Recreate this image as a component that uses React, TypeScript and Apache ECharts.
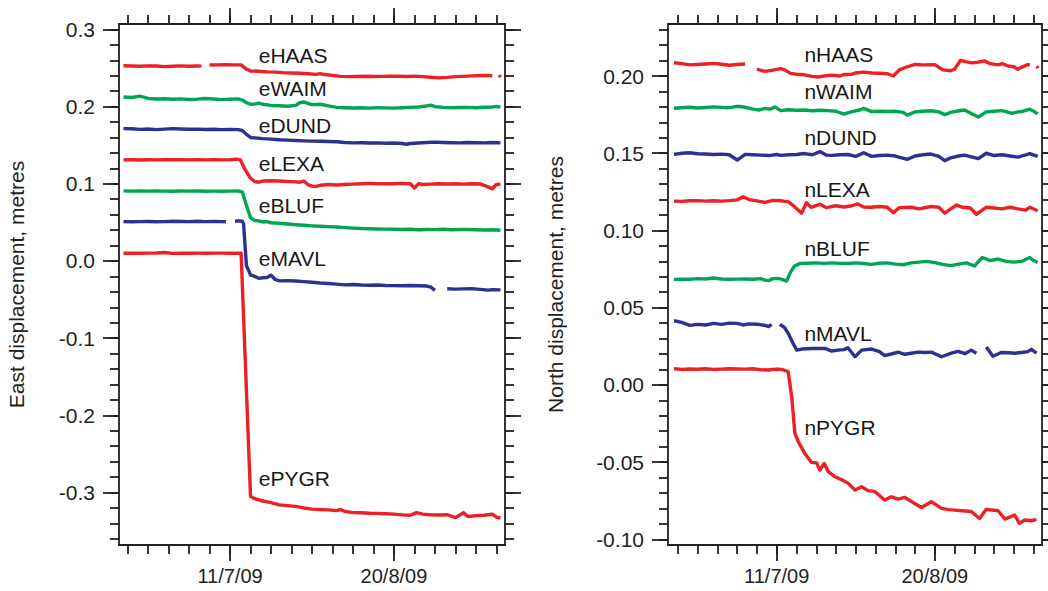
import React, { useEffect, useRef } from 'react';
import * as echarts from 'echarts';

// ---------- colours / fonts ----------
const RED = '#ED2024';
const GREEN = '#00A651';
const BLUE = '#2E3192';
const INK = '#231F20';
const FONT = "'Liberation Sans', Arial, Helvetica, sans-serif";

// ---------- axis ticks (days relative to 11 July 2009) ----------
const xMinorTicks = [-25, -20, -15, -10, -5, 0, 5, 10, 15, 20, 25, 30, 35, 40, 45, 50, 55, 60, 65];
const xMajorTicks = [0, 40];
const xTickLabels = ['11/7/09', '20/8/09'];

const eMajorTicks = [-0.3, -0.2, -0.1, 0, 0.1, 0.2, 0.3];
const eMinorTicks = [-0.36, -0.34, -0.32, -0.3, -0.28, -0.26, -0.24, -0.22, -0.2, -0.18, -0.16, -0.14, -0.12, -0.1, -0.08, -0.06, -0.04, -0.02, 0, 0.02, 0.04, 0.06, 0.08, 0.1, 0.12, 0.14, 0.16, 0.18, 0.2, 0.22, 0.24, 0.26, 0.28, 0.3];
const nMajorTicks = [-0.1, -0.05, 0, 0.05, 0.1, 0.15, 0.2];
const nMinorTicks = [-0.1, -0.09, -0.08, -0.07, -0.06, -0.05, -0.04, -0.03, -0.02, -0.01, 0, 0.01, 0.02, 0.03, 0.04, 0.05, 0.06, 0.07, 0.08, 0.09, 0.1, 0.11, 0.12, 0.13, 0.14, 0.15, 0.16, 0.17, 0.18, 0.19, 0.2, 0.21, 0.22, 0.23];

// ---------- East components [day, metres] ----------
const eHAAS = [[-26,0.2530],[-24,0.2525],[-22,0.2522],[-20,0.2528],[-18,0.2525],[-16,0.2518],[-14,0.2522],[-12,0.2527],[-10,0.2523],[-8,0.2526],[-7,0.2524],[-6,null],[-5,0.2538],[-3,0.2540],[-1,0.2542],[1,0.2541],[2.7,0.2540],[4,0.2485],[5,0.2462],[7,0.2458],[9,0.2450],[11,0.2447],[13,0.2440],[15,0.2436],[17,0.2432],[19,0.2425],[21,0.2418],[22,0.2428],[23,0.2415],[25,0.2405],[27,0.2392],[29,0.2388],[31,0.2390],[33,0.2393],[35,0.2389],[37,0.2392],[39,0.2395],[41,0.2393],[43,0.2390],[45,0.2395],[47,0.2388],[49,0.2380],[51,0.2372],[53,0.2378],[55,0.2388],[57,0.2392],[59,0.2398],[61,0.2402],[63,0.2405],[64,0.2400],[65,null],[65.7,0.2410],[66,0.2380]];
const eWAIM = [[-26,0.2125],[-24,0.2118],[-22,0.2135],[-20,0.2105],[-18,0.2098],[-16,0.2102],[-14,0.2095],[-12,0.2100],[-10,0.2092],[-8,0.2096],[-6,0.2105],[-4,0.2098],[-2,0.2090],[0,0.2095],[2,0.2100],[3,0.2085],[4,0.2050],[5,0.2030],[6,0.2032],[7,0.2045],[8,0.2030],[10,0.2015],[12,0.2010],[14,0.2005],[16,0.2015],[17,0.2050],[18,0.2060],[19,0.2040],[20,0.2025],[22,0.2030],[24,0.2010],[26,0.1990],[28,0.1985],[30,0.1982],[32,0.1985],[34,0.1980],[36,0.1986],[38,0.1983],[40,0.1980],[42,0.1985],[44,0.1990],[46,0.1995],[48,0.2010],[49,0.2018],[50,0.2000],[52,0.1990],[54,0.1985],[56,0.1988],[58,0.1990],[60,0.1985],[62,0.1992],[64,0.1995],[65,0.2003],[66,0.1993]];
const eDUND = [[-26,0.1715],[-24,0.1712],[-22,0.1705],[-20,0.1710],[-18,0.1702],[-16,0.1708],[-14,0.1715],[-12,0.1710],[-10,0.1706],[-8,0.1708],[-6,0.1704],[-4,0.1706],[-2,0.1702],[0,0.1705],[2,0.1702],[3,0.1690],[4,0.1640],[5,0.1600],[6,0.1595],[8,0.1585],[10,0.1578],[12,0.1570],[14,0.1565],[16,0.1560],[18,0.1556],[20,0.1552],[22,0.1550],[24,0.1548],[26,0.1545],[28,0.1535],[30,0.1530],[32,0.1532],[34,0.1528],[36,0.1530],[38,0.1525],[40,0.1528],[42,0.1522],[43,0.1512],[44,0.1522],[46,0.1528],[48,0.1535],[50,0.1540],[52,0.1535],[54,0.1532],[56,0.1530],[58,0.1535],[60,0.1532],[62,0.1530],[64,0.1535],[66,0.1530]];
const eLEXA = [[-26,0.1310],[-24,0.1312],[-22,0.1308],[-20,0.1312],[-18,0.1310],[-16,0.1312],[-14,0.1311],[-12,0.1313],[-10,0.1310],[-8,0.1312],[-6,0.1310],[-4,0.1312],[-2,0.1310],[0,0.1311],[1.5,0.1320],[2.5,0.1310],[3.5,0.1200],[5,0.1070],[6,0.1030],[7,0.1020],[8,0.1035],[10,0.1040],[12,0.1035],[14,0.1030],[16,0.1025],[17,0.1020],[18,0.1035],[19,0.0990],[20,0.0970],[21,0.0965],[22,0.0980],[24,0.0990],[26,0.0985],[28,0.0990],[30,0.0995],[32,0.1000],[34,0.1005],[36,0.1000],[38,0.1002],[40,0.1000],[42,0.1005],[44,0.1000],[45,0.0945],[46,0.1000],[47,0.0990],[49,0.0995],[51,0.1000],[53,0.0998],[55,0.1000],[57,0.0995],[59,0.1000],[61,0.0998],[63,0.0960],[64,0.0935],[65,0.0990],[66,0.0995]];
const eBLUF = [[-26,0.0908],[-24,0.0905],[-22,0.0906],[-20,0.0905],[-18,0.0907],[-16,0.0905],[-14,0.0904],[-12,0.0906],[-10,0.0905],[-8,0.0906],[-6,0.0904],[-4,0.0905],[-2,0.0904],[0,0.0905],[2,0.0906],[3,0.0895],[4,0.0720],[5,0.0560],[6,0.0525],[7,0.0520],[8,0.0505],[9,0.0510],[10,0.0495],[12,0.0488],[14,0.0478],[16,0.0470],[18,0.0462],[20,0.0455],[22,0.0450],[24,0.0445],[26,0.0440],[28,0.0432],[30,0.0425],[32,0.0420],[34,0.0418],[36,0.0415],[38,0.0412],[40,0.0410],[42,0.0408],[44,0.0410],[46,0.0405],[48,0.0408],[50,0.0406],[52,0.0410],[54,0.0405],[56,0.0407],[58,0.0408],[60,0.0405],[62,0.0402],[64,0.0405],[66,0.0398]];
const eMAVL = [[-26,0.0510],[-24,0.0508],[-22,0.0510],[-20,0.0512],[-18,0.0508],[-16,0.0510],[-14,0.0515],[-12,0.0512],[-10,0.0510],[-8,0.0514],[-6,0.0510],[-4,0.0512],[-2,0.0510],[-1,0.0508],[0,null],[1.2,0.0515],[2,0.0520],[3,0.0515],[3.3,0.0480],[4,-0.0060],[5,-0.0180],[6,-0.0200],[7,-0.0225],[8,-0.0218],[9,-0.0215],[10,-0.0185],[11,-0.0240],[12,-0.0258],[14,-0.0255],[16,-0.0260],[18,-0.0268],[20,-0.0275],[22,-0.0285],[24,-0.0292],[26,-0.0300],[28,-0.0310],[30,-0.0305],[32,-0.0312],[34,-0.0315],[36,-0.0312],[38,-0.0318],[40,-0.0320],[42,-0.0322],[44,-0.0318],[46,-0.0322],[48,-0.0325],[49,-0.0340],[50,-0.0380],[51,null],[53,-0.0360],[55,-0.0365],[57,-0.0362],[59,-0.0358],[61,-0.0368],[63,-0.0378],[64,-0.0372],[66,-0.0375]];
const ePYGR = [[-26,0.0100],[-24,0.0102],[-22,0.0100],[-20,0.0101],[-18,0.0103],[-16,0.0110],[-14,0.0098],[-12,0.0102],[-10,0.0100],[-8,0.0101],[-6,0.0100],[-4,0.0102],[-2,0.0101],[0,0.0100],[2,0.0102],[2.7,0.0100],[5,-0.3050],[6,-0.3080],[8,-0.3110],[10,-0.3130],[12,-0.3160],[14,-0.3170],[16,-0.3180],[18,-0.3200],[20,-0.3215],[22,-0.3220],[24,-0.3225],[26,-0.3235],[27,-0.3220],[28,-0.3245],[30,-0.3260],[32,-0.3262],[34,-0.3268],[36,-0.3270],[38,-0.3275],[40,-0.3280],[42,-0.3290],[44,-0.3295],[45.5,-0.3260],[47,-0.3280],[49,-0.3290],[51,-0.3292],[53,-0.3288],[55,-0.3325],[57,-0.3262],[58,-0.3310],[60,-0.3300],[62,-0.3295],[64,-0.3280],[65,-0.3320],[66,-0.3330]];

// ---------- North components [day, metres] ----------
const nHAAS = [[-26,0.2086],[-24,0.2080],[-22,0.2072],[-20,0.2075],[-18,0.2078],[-16,0.2082],[-14,0.2076],[-12,0.2070],[-10,0.2075],[-8,0.2078],[-7,null],[-5,0.2045],[-3,0.2030],[-1,0.2038],[1,0.2048],[2,0.2040],[3.5,0.2017],[5,0.2012],[7,0.2008],[9,0.1998],[10.5,0.1994],[12,0.2000],[14,0.2006],[16,0.2000],[17,0.2010],[19,0.2012],[20,0.2020],[22,0.2025],[24,0.2020],[26,0.2018],[28,0.2015],[29.5,0.2000],[31,0.2040],[33,0.2060],[35,0.2075],[37,0.2072],[40,0.2074],[42,0.2040],[44,0.2034],[45,0.2045],[46.5,0.2102],[48,0.2092],[49.5,0.2085],[51,0.2090],[52.5,0.2098],[54,0.2080],[56,0.2072],[57,0.2080],[58.5,0.2065],[60,0.2060],[61,0.2043],[62,0.2058],[63.5,0.2075],[64,0.2070],[65,null],[65.8,0.2065],[66.1,0.2050]];
const nWAIM = [[-26,0.1791],[-24,0.1795],[-22,0.1798],[-20,0.1793],[-18,0.1796],[-16,0.1800],[-14,0.1797],[-12,0.1795],[-10,0.1804],[-8,0.1798],[-6,0.1786],[-4.5,0.1780],[-3,0.1790],[-1.5,0.1786],[-0.5,0.1800],[1,0.1776],[3,0.1782],[5,0.1778],[7,0.1780],[9,0.1775],[11,0.1778],[13,0.1776],[15,0.1772],[17,0.1754],[19,0.1770],[21,0.1780],[22,0.1791],[24,0.1770],[26,0.1772],[28,0.1770],[30,0.1772],[32,0.1765],[33,0.1747],[35,0.1768],[37,0.1772],[39,0.1775],[41,0.1768],[42.5,0.1750],[44,0.1765],[45,0.1770],[47.5,0.1780],[49,0.1760],[51,0.1735],[53,0.1768],[55,0.1772],[57,0.1776],[58,0.1770],[59.5,0.1758],[61,0.1768],[62,0.1770],[64,0.1785],[65,0.1772],[66,0.1755]];
const nDUND = [[-26,0.1493],[-24,0.1500],[-22,0.1503],[-20,0.1497],[-18,0.1495],[-16,0.1492],[-14,0.1494],[-12,0.1490],[-10,0.1456],[-8,0.1493],[-6,0.1490],[-4,0.1488],[-2,0.1485],[0,0.1492],[1,0.1486],[3,0.1490],[5,0.1492],[7,0.1498],[9,0.1490],[11,0.1510],[12.5,0.1488],[14,0.1486],[16,0.1490],[18,0.1492],[20,0.1480],[22,0.1503],[24,0.1480],[26,0.1485],[28,0.1488],[30,0.1482],[33,0.1460],[35,0.1482],[37,0.1490],[39,0.1495],[41,0.1480],[42.5,0.1452],[44,0.1470],[46,0.1482],[47.5,0.1488],[49,0.1478],[51,0.1465],[53,0.1500],[55,0.1485],[57,0.1490],[59,0.1482],[61,0.1475],[63,0.1490],[64,0.1498],[66,0.1480]];
const nLEXA = [[-26,0.1190],[-24,0.1188],[-22,0.1192],[-20,0.1193],[-18,0.1190],[-16,0.1192],[-14,0.1190],[-12,0.1193],[-10,0.1198],[-8.5,0.1218],[-7,0.1200],[-5,0.1192],[-3,0.1182],[-1,0.1195],[1,0.1192],[3,0.1185],[4.5,0.1154],[6.3,0.1112],[7.5,0.1180],[8.7,0.1150],[11,0.1170],[12.5,0.1148],[15,0.1160],[17,0.1152],[19,0.1160],[20.5,0.1172],[22,0.1152],[24,0.1150],[26,0.1155],[28,0.1150],[29.5,0.1115],[31,0.1148],[34,0.1150],[36,0.1140],[39,0.1155],[41,0.1150],[42.5,0.1112],[44,0.1140],[45.5,0.1165],[47,0.1150],[49,0.1145],[50.5,0.1105],[53,0.1150],[55,0.1145],[57,0.1140],[59,0.1150],[61,0.1140],[63,0.1132],[64,0.1150],[66,0.1128]];
const nBLUF = [[-26,0.0683],[-24,0.0685],[-22,0.0684],[-20,0.0688],[-18,0.0686],[-16,0.0692],[-14,0.0686],[-12,0.0684],[-10,0.0685],[-8,0.0686],[-6,0.0684],[-4,0.0688],[-3,0.0678],[-2,0.0675],[-1,0.0688],[0,0.0690],[1,0.0686],[2.5,0.0672],[3.5,0.0730],[4.5,0.0770],[6,0.0787],[8,0.0788],[10,0.0790],[12,0.0787],[14,0.0790],[16,0.0787],[18,0.0786],[20,0.0790],[22,0.0786],[24,0.0780],[26,0.0788],[28,0.0790],[30,0.0782],[32,0.0778],[34,0.0790],[36,0.0795],[38,0.0800],[40,0.0792],[42,0.0780],[44,0.0772],[46,0.0782],[48,0.0790],[50,0.0770],[52,0.0825],[54,0.0805],[56,0.0815],[58,0.0800],[60,0.0795],[62,0.0800],[64,0.0825],[65,0.0805],[66,0.0792]];
const nMAVL = [[-26,0.0415],[-24,0.0405],[-22,0.0385],[-20,0.0392],[-18,0.0388],[-16,0.0398],[-14,0.0392],[-12,0.0400],[-10,0.0398],[-8.5,0.0388],[-7,0.0395],[-5,0.0393],[-3,0.0385],[-2,0.0378],[-1.3,0.0392],[-0.5,null],[0.8,0.0392],[2,0.0370],[3,0.0330],[4.2,0.0265],[5.1,0.0225],[6.3,0.0232],[8.8,0.0236],[11,0.0236],[12.2,0.0236],[13.9,0.0219],[15.5,0.0225],[17,0.0228],[18,0.0240],[19.8,0.0182],[21.5,0.0225],[24,0.0232],[26,0.0215],[27.3,0.0190],[29,0.0200],[30.7,0.0212],[32.4,0.0198],[34,0.0205],[35.8,0.0212],[37.5,0.0210],[39.1,0.0212],[41.7,0.0182],[44.2,0.0205],[45.9,0.0217],[47.6,0.0202],[49.2,0.0225],[50.5,0.0205],[51.5,null],[53,0.0245],[54.7,0.0185],[56.8,0.0210],[58.5,0.0208],[60.2,0.0205],[62,0.0210],[63.5,0.0215],[64.4,0.0230],[65.7,0.0205]];
const nPYGR = [[-26,0.0104],[-24,0.0100],[-22,0.0103],[-20,0.0101],[-18,0.0104],[-16,0.0100],[-14,0.0102],[-12,0.0104],[-10,0.0103],[-8,0.0102],[-6,0.0104],[-4,0.0098],[-2,0.0096],[-1,0.0100],[0,0.0102],[1.3,0.0100],[2.9,0.0085],[3.8,-0.0080],[4.6,-0.0314],[5.5,-0.0370],[7.1,-0.0444],[8.8,-0.0502],[10.1,-0.0505],[10.9,-0.0552],[12,-0.0509],[13,-0.0560],[14.7,-0.0595],[16.5,-0.0615],[18.1,-0.0638],[19.8,-0.0681],[21.5,-0.0660],[23.1,-0.0685],[24.8,-0.0690],[27.3,-0.0746],[29,-0.0725],[30.7,-0.0740],[32.4,-0.0729],[34.9,-0.0768],[36.6,-0.0794],[39.1,-0.0757],[41.7,-0.0800],[43.5,-0.0808],[45,-0.0811],[47,-0.0815],[49.2,-0.0820],[51.3,-0.0865],[53,-0.0806],[56,-0.0815],[57.7,-0.0869],[60.2,-0.0843],[61.4,-0.0897],[62.7,-0.0875],[64.4,-0.0880],[65.7,-0.0871]];

// ---------- station labels ----------
const eNames = ['eHAAS', 'eWAIM', 'eDUND', 'eLEXA', 'eBLUF', 'eMAVL', 'ePYGR'];
const eLabelY = [0.266, 0.224, 0.176, 0.1257, 0.0718, 0.003, -0.2818];
const nNames = ['nHAAS', 'nWAIM', 'nDUND', 'nLEXA', 'nBLUF', 'nMAVL', 'nPYGR'];
const nLabelY = [0.214, 0.1898, 0.1603, 0.1262, 0.0884, 0.0332, -0.0274];
const labelDay = 7;

const eSeries = [eHAAS, eWAIM, eDUND, eLEXA, eBLUF, eMAVL, ePYGR];
const nSeries = [nHAAS, nWAIM, nDUND, nLEXA, nBLUF, nMAVL, nPYGR];
const seriesColors = [RED, GREEN, BLUE, RED, GREEN, BLUE, RED];

export default function App() {
  const ref = useRef<HTMLDivElement>(null);

  useEffect(() => {
    if (!ref.current) return;
    const chart = echarts.init(ref.current, undefined, { renderer: 'svg' });

    const lineStyle = { color: INK, width: 1.8 };
    const X_LEFT = { min: -27.1, max: 67.1 };
    const X_RIGHT = { min: -27.5, max: 67.1 };

    const mkX = (gridIndex: number, ext: any, position: string, ticks: number[], len: number, withLine: boolean, labels: boolean) => ({
      type: 'value', gridIndex, min: ext.min, max: ext.max, position,
      axisLine: { show: withLine, onZero: false, lineStyle },
      axisTick: { show: true, inside: false, length: len, customValues: ticks, lineStyle },
      axisLabel: labels
        ? { show: true, customValues: xMajorTicks, margin: 21, fontSize: 20, color: INK, fontFamily: FONT,
            formatter: (v: number) => xTickLabels[xMajorTicks.indexOf(Math.round(v))] ?? '' }
        : { show: false },
      splitLine: { show: false },
    });

    const mkY = (gridIndex: number, min: number, max: number, position: string, ticks: number[], len: number, withLine: boolean, labelTicks: number[] | null, digits: number, name?: string, nameGap?: number) => ({
      type: 'value', gridIndex, min, max, position,
      name: name || '', nameLocation: 'middle', nameRotate: 90, nameGap: nameGap || 0,
      nameTextStyle: { fontSize: 21, color: INK, fontFamily: FONT },
      axisLine: { show: withLine, onZero: false, lineStyle },
      axisTick: { show: true, inside: false, length: len, customValues: ticks, lineStyle },
      axisLabel: labelTicks
        ? { show: true, customValues: labelTicks, margin: 24, fontSize: 21, color: INK, fontFamily: FONT,
            formatter: (v: number) => v.toFixed(digits) }
        : { show: false },
      splitLine: { show: false },
    });

    const E_MIN = -0.368, E_MAX = 0.307;
    const N_MIN = -0.1037, N_MAX = 0.2337;

    const xAxis = [
      mkX(0, X_LEFT, 'bottom', xMinorTicks, 9, true, false),
      mkX(0, X_LEFT, 'bottom', xMajorTicks, 16, false, true),
      mkX(0, X_LEFT, 'top', xMinorTicks, 9, true, false),
      mkX(0, X_LEFT, 'top', xMajorTicks, 16, false, false),
      mkX(1, X_RIGHT, 'bottom', xMinorTicks, 9, true, false),
      mkX(1, X_RIGHT, 'bottom', xMajorTicks, 16, false, true),
      mkX(1, X_RIGHT, 'top', xMinorTicks, 9, true, false),
      mkX(1, X_RIGHT, 'top', xMajorTicks, 16, false, false),
    ];
    const yAxis = [
      mkY(0, E_MIN, E_MAX, 'left', eMinorTicks, 9, true, null, 1, 'East displacement, metres', 92),
      mkY(0, E_MIN, E_MAX, 'left', eMajorTicks, 16, false, eMajorTicks, 1),
      mkY(0, E_MIN, E_MAX, 'right', eMinorTicks, 9, true, null, 1),
      mkY(0, E_MIN, E_MAX, 'right', eMajorTicks, 16, false, null, 1),
      mkY(1, N_MIN, N_MAX, 'left', nMinorTicks, 9, true, null, 2, 'North displacement, metres', 102),
      mkY(1, N_MIN, N_MAX, 'left', nMajorTicks, 16, false, nMajorTicks, 2),
      mkY(1, N_MIN, N_MAX, 'right', nMinorTicks, 9, true, null, 2),
      mkY(1, N_MIN, N_MAX, 'right', nMajorTicks, 16, false, null, 2),
    ];

    const series: any[] = [];
    const addPanel = (data: any[][], names: string[], labelYs: number[], axisIdx: number) => {
      data.forEach((d, i) => {
        series.push({
          type: 'line', name: names[i], xAxisIndex: axisIdx, yAxisIndex: axisIdx,
          data: d, showSymbol: false, symbol: 'none', connectNulls: false, silent: true,
          lineStyle: { color: seriesColors[i], width: 3.4, join: 'round' },
        });
      });
      series.push({
        type: 'scatter', xAxisIndex: axisIdx, yAxisIndex: axisIdx, symbolSize: 0, silent: true,
        itemStyle: { color: INK, opacity: 1 },
        data: names.map((n, i) => ({ value: [labelDay, labelYs[i]], name: n })),
        label: { show: true, position: 'right', distance: 0, formatter: '{b}', fontSize: 21, color: '#1a1718', opacity: 1, fontFamily: FONT },
      });
    };
    addPanel(eSeries, eNames, eLabelY, 0);
    addPanel(nSeries, nNames, nLabelY, 4);

    chart.setOption({
      animation: false,
      backgroundColor: '#ffffff',
      textStyle: { fontFamily: FONT },
      grid: [
        { left: 119, top: 24, width: 386, height: 521, outerBoundsMode: 'none', containLabel: false },
        { left: 668, top: 24, width: 374, height: 521, outerBoundsMode: 'none', containLabel: false },
      ],
      xAxis,
      yAxis,
      series,
    });

    return () => chart.dispose();
  }, []);

  return (
    <div
      ref={ref}
      style={{ position: 'absolute', left: 0, top: 0, width: 1048, height: 591, background: '#fff' }}
    />
  );
}
